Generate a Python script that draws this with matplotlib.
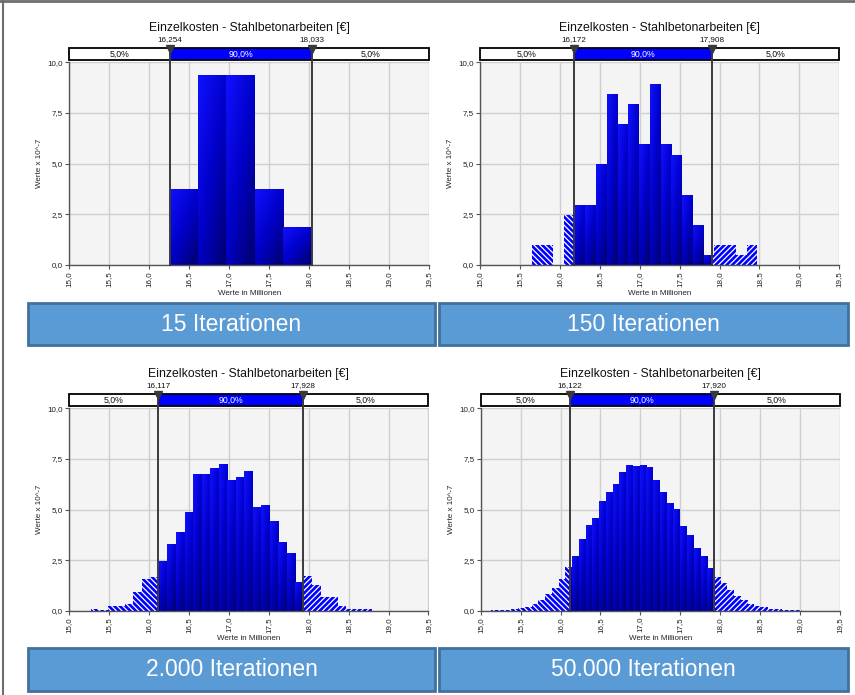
import numpy as np
import matplotlib
matplotlib.use("Agg")
import matplotlib.pyplot as plt
import matplotlib.transforms as mtransforms
from matplotlib.colors import LinearSegmentedColormap
from matplotlib.patches import Rectangle
from matplotlib.lines import Line2D

# ---------------- data ----------------
TITLE = "Einzelkosten - Stahlbetonarbeiten [€]"
X_LABEL = "Werte in Millionen"
Y_LABEL = "Werte x 10^-7"
X_TICKS = [15.0, 15.5, 16.0, 16.5, 17.0, 17.5, 18.0, 18.5, 19.0, 19.5]
Y_TICKS = [0.0, 2.5, 5.0, 7.5, 10.0]
TAIL_PCT = 5.0
MID_PCT = 90.0

labels = ["15 Iterationen", "150 Iterationen", "2.000 Iterationen", "50.000 Iterationen"]

edges_15 = [16.254, 16.610, 16.966, 17.321, 17.677, 18.033]
heights_15 = [3.75, 9.37, 9.37, 3.75, 1.87]
p5_15, p95_15 = 16.254, 18.033

edges_150 = [15.648, 15.783, 15.917, 16.052, 16.186, 16.321, 16.455, 16.590, 16.724,
             16.859, 16.993, 17.128, 17.262, 17.397, 17.531, 17.666, 17.800, 17.935,
             18.069, 18.204, 18.338, 18.473]
heights_150 = [0.99, 0.99, 0.0, 2.48, 2.97, 2.97, 4.96, 8.43, 6.94, 7.93, 5.95, 8.92,
               5.95, 5.45, 3.47, 1.98, 0.50, 0.99, 0.99, 0.50, 0.99]
p5_150, p95_150 = 16.172, 17.908

edges_2000 = [15.270, 15.377, 15.483, 15.590, 15.697, 15.804, 15.910, 16.017, 16.124,
              16.230, 16.337, 16.444, 16.550, 16.657, 16.764, 16.871, 16.977, 17.084,
              17.191, 17.297, 17.404, 17.511, 17.617, 17.724, 17.831, 17.938, 18.044,
              18.151, 18.258, 18.364, 18.471, 18.578, 18.684, 18.791]
heights_2000 = [0.08, 0.02, 0.23, 0.23, 0.33, 0.94, 1.57, 1.66, 2.46, 3.28, 3.89, 4.88,
                6.75, 6.75, 7.03, 7.23, 6.46, 6.60, 6.90, 5.11, 5.22, 4.43, 3.38, 2.85,
                1.42, 1.71, 1.27, 0.66, 0.66, 0.23, 0.08, 0.08, 0.08]
p5_2000, p95_2000 = 16.117, 17.928

edges_50000 = [15.130, 15.215, 15.299, 15.384, 15.468, 15.553, 15.638, 15.722, 15.807,
               15.891, 15.976, 16.061, 16.145, 16.230, 16.314, 16.399, 16.484, 16.568,
               16.653, 16.737, 16.822, 16.907, 16.991, 17.076, 17.160, 17.245, 17.330,
               17.414, 17.499, 17.583, 17.668, 17.753, 17.837, 17.922, 18.006, 18.091,
               18.176, 18.260, 18.345, 18.429, 18.514, 18.599, 18.683, 18.768, 18.852,
               18.937, 19.022]
heights_50000 = [0.02, 0.03, 0.04, 0.07, 0.12, 0.20, 0.33, 0.51, 0.81, 1.14, 1.57, 2.14,
                 2.70, 3.54, 4.23, 4.60, 5.42, 5.85, 6.26, 6.87, 7.20, 7.15, 7.20, 7.10,
                 6.46, 5.85, 5.30, 5.02, 4.18, 3.74, 3.08, 2.70, 2.09, 1.66, 1.35, 1.02,
                 0.73, 0.53, 0.33, 0.25, 0.17, 0.10, 0.07, 0.05, 0.04, 0.03]
p5_50000, p95_50000 = 16.122, 17.920

panels = [
    (edges_15, heights_15, p5_15, p95_15),
    (edges_150, heights_150, p5_150, p95_150),
    (edges_2000, heights_2000, p5_2000, p95_2000),
    (edges_50000, heights_50000, p5_50000, p95_50000),
]

# ---------------- style ----------------
W, H = 855, 695
plt.rcParams["font.family"] = ["Liberation Sans", "DejaVu Sans"]
plt.rcParams["hatch.linewidth"] = 0.9

BLUE = "#0000FF"
grad_cmap = LinearSegmentedColormap.from_list("barg", ["#1010FF", "#0000C8", "#000070"])


def de(v, nd=1):
    return f"{v:.{nd}f}".replace(".", ",")


fig = plt.figure(figsize=(W / 100, H / 100), dpi=100)
fig.patch.set_facecolor("white")

# axes rectangles in pixels: left, top, right, bottom
ax_px = [(69.3, 62.3, 429.0, 265.0), (480.0, 62.3, 839.3, 265.0),
         (69.3, 408.3, 428.5, 610.7), (480.7, 408.3, 840.0, 610.7)]
box_px = [(28, 303, 435, 345), (439, 303, 848, 345),
          (28, 648, 435, 691), (439, 648, 848, 691)]

gy, gx = np.mgrid[0:1:40j, 0:1:12j]
grad = 0.55 * gy + 0.45 * gx

for i, ((l, t, r, b), (edges, heights, p5, p95)) in enumerate(zip(ax_px, panels)):
    ax = fig.add_axes([l / W, 1 - b / H, (r - l) / W, (b - t) / H])
    ax.set_facecolor("#F4F4F4")
    ax_h = b - t
    trans = mtransforms.blended_transform_factory(ax.transData, ax.transAxes)

    for a, c, h in zip(edges[:-1], edges[1:], heights):
        if h <= 0:
            continue
        lo, hi = max(a, p5), min(c, p95)
        if hi > lo:
            bar = ax.bar(lo, h, width=hi - lo, align="edge", color="#0000D0",
                         linewidth=0, zorder=2)[0]
            im = ax.imshow(grad, extent=(lo, hi, 0, h), aspect="auto", cmap=grad_cmap,
                           vmin=0, vmax=1, zorder=2.1, interpolation="bilinear")
            im.set_clip_path(bar)
        if a < p5:
            ax.bar(a, h, width=min(c, p5) - a, align="edge", facecolor=BLUE,
                   edgecolor="white", linewidth=0, hatch="\\\\\\\\\\\\", zorder=2)
        if c > p95:
            s = max(a, p95)
            ax.bar(s, h, width=c - s, align="edge", facecolor=BLUE,
                   edgecolor="white", linewidth=0, hatch="//////", zorder=2)

    ax.set_xlim(X_TICKS[0], X_TICKS[-1])
    ax.set_ylim(Y_TICKS[0], Y_TICKS[-1])
    ax.set_xticks(X_TICKS)
    ax.set_yticks(Y_TICKS)
    ax.set_xticklabels([de(v) for v in X_TICKS], rotation=90, fontsize=5.8)
    ax.set_yticklabels([de(v) for v in Y_TICKS], fontsize=5.8)
    ax.tick_params(axis="both", length=3, width=0.8, color="#555555", pad=1.5,
                   labelcolor="#222222")
    ax.grid(True, color="#CFCFCF", linewidth=1.0, zorder=0)
    ax.set_axisbelow(True)
    for sp in ["top", "right"]:
        ax.spines[sp].set_visible(False)
    for sp in ["left", "bottom"]:
        ax.spines[sp].set_color("#555555")
        ax.spines[sp].set_linewidth(1.0)

    ax.set_xlabel(X_LABEL, fontsize=5.8, color="#222222")
    ax.xaxis.set_label_coords(0.5, -24.5 / ax_h)
    ax.set_ylabel(Y_LABEL, fontsize=5.8, color="#222222")
    ax.yaxis.set_label_coords(-26 / (r - l), 0.5)

    # percentile band above the plot
    y0 = 1 + 2.3 / ax_h
    bh = 11.7 / ax_h
    xmin, xmax = X_TICKS[0], X_TICKS[-1]
    ax.add_patch(Rectangle((xmin, y0), p5 - xmin, bh, transform=trans, facecolor="white",
                           edgecolor="none", clip_on=False, zorder=3))
    ax.add_patch(Rectangle((p5, y0), p95 - p5, bh, transform=trans, facecolor=BLUE,
                           edgecolor="none", clip_on=False, zorder=3))
    ax.add_patch(Rectangle((p95, y0), xmax - p95, bh, transform=trans, facecolor="white",
                           edgecolor="none", clip_on=False, zorder=3))
    ax.add_patch(Rectangle((xmin, y0), xmax - xmin, bh, transform=trans, facecolor="none",
                           edgecolor="black", linewidth=1.3, clip_on=False, zorder=4))
    ym = y0 + bh / 2
    ax.text((xmin + p5) / 2, ym, de(TAIL_PCT) + "%", transform=trans, ha="center",
            va="center", fontsize=6.3, color="#111111", zorder=5)
    ax.text((p5 + p95) / 2, ym, de(MID_PCT) + "%", transform=trans, ha="center",
            va="center", fontsize=6.3, color="white", zorder=5)
    ax.text((p95 + xmax) / 2, ym, de(TAIL_PCT) + "%", transform=trans, ha="center",
            va="center", fontsize=6.3, color="#111111", zorder=5)

    for p in (p5, p95):
        ax.axvline(p, ymin=0, ymax=y0 + bh, color="#3A3A3A", linewidth=1.4,
                   clip_on=False, zorder=4.5)
        ax.plot([p], [y0 + bh - 0.5 / ax_h], marker="v", markersize=5.2, color="#3A3A3A",
                transform=trans, clip_on=False, zorder=6)
        ax.text(p, 1 + 22.5 / ax_h, de(p, 3), transform=trans, ha="center", va="center",
                fontsize=5.9, color="#111111")

    ax.text(0.5, 1 + 34 / ax_h, TITLE, transform=ax.transAxes, ha="center", va="center",
            fontsize=8.8, color="#111111")

# label boxes
for (bl, bt, br, bb), txt in zip(box_px, labels):
    fig.patches.append(Rectangle((bl / W, 1 - bb / H), (br - bl) / W, (bb - bt) / H,
                                 transform=fig.transFigure, facecolor="#5B9BD5",
                                 edgecolor="#41719C", linewidth=2.0))
    fig.text((bl + br) / 2 / W, 1 - (bt + bb) / 2 / H, txt, ha="center", va="center",
             fontsize=16.5, color="white",
             family=["Liberation Sans Narrow", "Liberation Sans", "DejaVu Sans"])

# screenshot frame lines (top and left)
fig.lines.append(Line2D([0, 1], [1 - 1.2 / H, 1 - 1.2 / H], transform=fig.transFigure,
                        color="#6E6E6E", linewidth=2.0))
fig.lines.append(Line2D([2.5 / W, 2.5 / W], [0, 1], transform=fig.transFigure,
                        color="#6E6E6E", linewidth=1.5))

fig.savefig("out.png", dpi=100)
